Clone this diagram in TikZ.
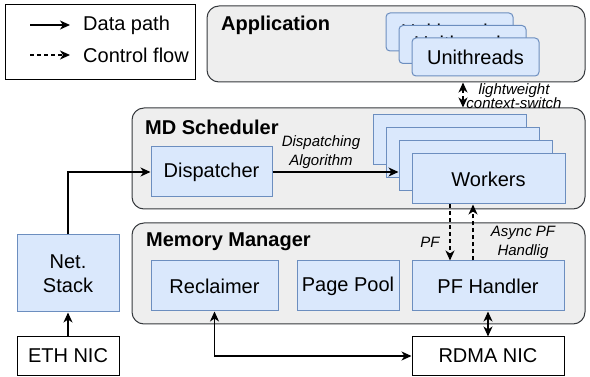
\documentclass[tikz,border=0pt]{standalone}
\usepackage{fontspec}
\setmainfont{Liberation Sans}
\usetikzlibrary{arrows.meta}
\definecolor{bfill}{HTML}{DAE8FC}
\definecolor{bdraw}{HTML}{6C8EBF}
\definecolor{cfill}{HTML}{EEEEEE}
\definecolor{cdraw}{HTML}{36393D}
\tikzset{
 >={Stealth[length=10pt,width=9pt,inset=3pt]},
 blk/.style={draw=bdraw, fill=bfill, line width=1pt, inner sep=0pt, align=center, font=\fontsize{20}{24}\selectfont},
 plainbox/.style={draw=black, fill=white, line width=1pt, inner sep=0pt, font=\fontsize{20}{24}\selectfont},
 cont/.style={draw=cdraw, fill=cfill, line width=1pt, rounded corners=12pt, inner sep=0pt},
 ttl/.style={font=\fontsize{20}{24}\selectfont\bfseries, inner sep=0pt, anchor=west},
 lgtext/.style={font=\fontsize{20}{24}\selectfont, inner sep=0pt, anchor=west},
 lbl/.style={font=\fontsize{15}{19}\selectfont\itshape, inner sep=0pt, align=center},
 data/.style={line width=1.2pt, ->},
 datab/.style={line width=1.2pt, <->},
 ctrl/.style={line width=1.2pt, ->, dash pattern=on 4pt off 3pt},
 ctrlb/.style={line width=1.2pt, <->, dash pattern=on 4pt off 3pt},
}
\begin{document}
\begin{tikzpicture}[x=1pt,y=-1pt]
\useasboundingbox (0,0) rectangle (590,377);
% legend
\node[draw=black, line width=1pt, minimum width=190pt, minimum height=75pt, inner sep=0pt] (legend) at (100,42.5) {};
\coordinate (la1) at (30,25); \coordinate (lb1) at (70,25);
\coordinate (la2) at (30,55); \coordinate (lb2) at (70,55);
\draw[data] (la1) -- (lb1);
\draw[ctrl] (la2) -- (lb2);
\node[lgtext] (ldata) at (83,25) {Data path};
\node[lgtext] (lctrl) at (83,55) {Control flow};
% containers
\node[cont, minimum width=378pt, minimum height=76pt] (app) at (396,44) {};
\node[ttl] (appt) at (221,25) {Application};
\node[cont, minimum width=453pt, minimum height=101pt] (md) at (358.5,158.5) {};
\node[ttl] (mdt) at (145,127) {MD Scheduler};
\node[cont, minimum width=453pt, minimum height=101pt] (mm) at (358.5,273.5) {};
\node[ttl] (mmt) at (146,242) {Memory Manager};
% unithreads
\node[blk, minimum width=127pt, minimum height=38pt, rounded corners=4pt] (u1) at (449.5,32) {\raisebox{2pt}{Unithreads}};
\node[blk, minimum width=127pt, minimum height=38pt, rounded corners=4pt] (u2) at (462.5,44.5) {\raisebox{2pt}{Unithreads}};
\node[blk, minimum width=127pt, minimum height=38pt, rounded corners=4pt] (u3) at (475.5,57) {Unithreads};
% workers
\node[blk, minimum width=153pt, minimum height=50pt] (wk1) at (449.5,140) {};
\node[blk, minimum width=153pt, minimum height=50pt] (wk2) at (462.5,153) {};
\node[blk, minimum width=153pt, minimum height=50pt] (wk3) at (475.5,166) {};
\node[blk, minimum width=153pt, minimum height=50pt] (wk4) at (488.5,179) {Workers};
% scheduler
\node[blk, minimum width=121pt, minimum height=50pt] (disp) at (211.5,172) {Dispatcher};
% memory manager
\node[blk, minimum width=127pt, minimum height=50pt] (recl) at (214.5,286) {Reclaimer};
\node[blk, minimum width=102pt, minimum height=50pt] (pool) at (348,286) {Page Pool};
\node[blk, minimum width=152pt, minimum height=50pt] (pf) at (488,286) {PF Handler};
% outside
\node[blk, minimum width=102pt, minimum height=77pt] (net) at (68,273.5) {Net.\\Stack};
\node[plainbox, minimum width=102pt, minimum height=38pt] (eth) at (68,356) {ETH NIC};
\node[plainbox, minimum width=152pt, minimum height=38pt] (rdma) at (488,356) {RDMA NIC};
% labels
\node[lbl, font=\fontsize{15}{14}\selectfont\itshape] (lwl) at (514,96) {lightweight\\context-switch};
\node[lbl] (dal) at (321,152.5) {Dispatching\\Algorithm};
\node[lbl] (pfl) at (430,242) {PF};
\node[lbl] (apl) at (523,242.5) {Async PF\\Handlig};
% connectors
\coordinate (lwx) at (463,0);
\coordinate (pfd) at (450,0);
\coordinate (pfu) at (473,0);
\draw[ctrlb] (app.south -| lwx) -- (md.north -| lwx);
\draw[data] (disp.east) -- (disp.east -| wk3.west);
\draw[ctrl] (wk4.south -| pfd) -- (pf.north -| pfd);
\draw[ctrl] (pf.north -| pfu) -- (wk4.south -| pfu);
\draw[data] (eth.north) -- (net.south);
\draw[data] (net.north) |- (disp.west);
\draw[datab] (pf.south) -- (rdma.north);
\draw[datab] (recl.south) |- (rdma.west);
\end{tikzpicture}
\end{document}
